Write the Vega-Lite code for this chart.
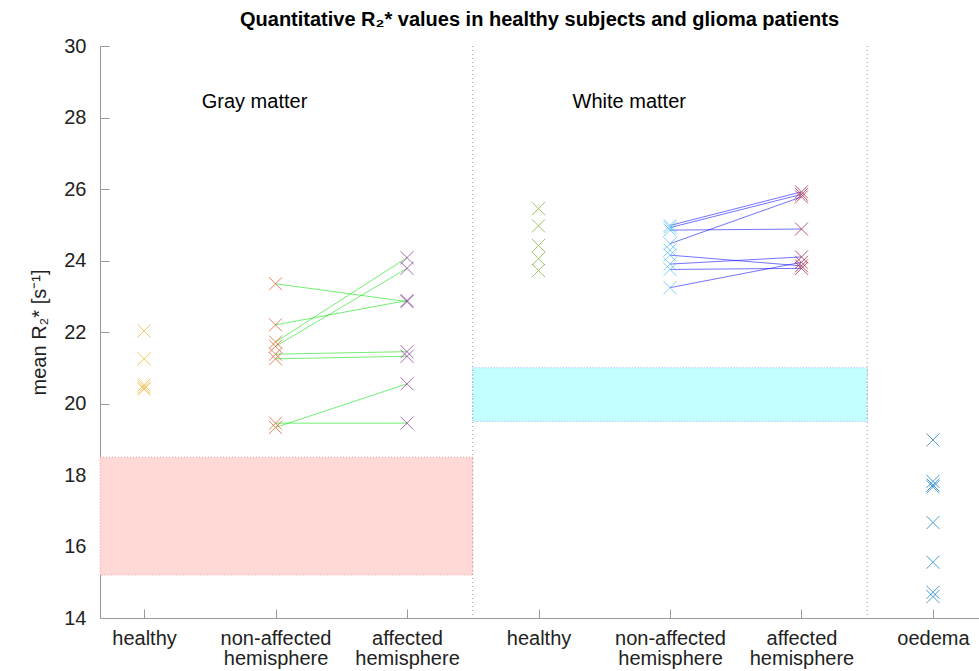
{
  "$schema": "https://vega.github.io/schema/vega-lite/v6.json",
  "width": 879,
  "height": 572,
  "autosize": "none",
  "padding": {"left": 100, "top": 46, "right": 0, "bottom": 53},
  "background": "white",
  "config": {
    "view": {"stroke": null},
    "font": "Liberation Sans"
  },
  "title": {
    "text": "Quantitative R₂* values in healthy subjects and glioma patients",
    "font": "Liberation Sans",
    "fontSize": 20,
    "fontWeight": "bold",
    "color": "#000000",
    "anchor": "middle",
    "offset": 6
  },
  "resolve": {"scale": {"stroke": "independent", "color": "independent", "fill": "independent"}},
  "datasets": {
    "bands": [
      {"x1": 0.665, "x2": 3.5, "y1": 15.2, "y2": 18.5, "band": "gm"},
      {"x1": 3.5, "x2": 6.5, "y1": 19.5, "y2": 21.0, "band": "wm"}
    ],
    "seps": [{"x": 3.5}, {"x": 6.5}],
    "labels": [
      {"x": 1.84, "v": 28.43, "t": "Gray matter"},
      {"x": 4.69, "v": 28.43, "t": "White matter"}
    ],
    "pts": [
      {"grp": "gm_h", "pos": 1, "v": 22.03},
      {"grp": "gm_h", "pos": 1, "v": 21.25},
      {"grp": "gm_h", "pos": 1, "v": 20.52},
      {"grp": "gm_h", "pos": 1, "v": 20.45},
      {"grp": "gm_h", "pos": 1, "v": 20.40},
      {"grp": "gm_na", "pos": 2, "v": 23.35, "pid": "g1", "tissue": "gm"},
      {"grp": "gm_a", "pos": 3, "v": 22.85, "pid": "g1", "tissue": "gm"},
      {"grp": "gm_na", "pos": 2, "v": 22.2, "pid": "g2", "tissue": "gm"},
      {"grp": "gm_a", "pos": 3, "v": 22.88, "pid": "g2", "tissue": "gm"},
      {"grp": "gm_na", "pos": 2, "v": 21.72, "pid": "g3", "tissue": "gm"},
      {"grp": "gm_a", "pos": 3, "v": 24.08, "pid": "g3", "tissue": "gm"},
      {"grp": "gm_na", "pos": 2, "v": 21.6, "pid": "g4", "tissue": "gm"},
      {"grp": "gm_a", "pos": 3, "v": 23.78, "pid": "g4", "tissue": "gm"},
      {"grp": "gm_na", "pos": 2, "v": 21.38, "pid": "g5", "tissue": "gm"},
      {"grp": "gm_a", "pos": 3, "v": 21.45, "pid": "g5", "tissue": "gm"},
      {"grp": "gm_na", "pos": 2, "v": 21.25, "pid": "g6", "tissue": "gm"},
      {"grp": "gm_a", "pos": 3, "v": 21.32, "pid": "g6", "tissue": "gm"},
      {"grp": "gm_na", "pos": 2, "v": 19.33, "pid": "g7", "tissue": "gm"},
      {"grp": "gm_a", "pos": 3, "v": 20.55, "pid": "g7", "tissue": "gm"},
      {"grp": "gm_na", "pos": 2, "v": 19.45, "pid": "g8", "tissue": "gm"},
      {"grp": "gm_a", "pos": 3, "v": 19.45, "pid": "g8", "tissue": "gm"},
      {"grp": "wm_h", "pos": 4, "v": 25.45},
      {"grp": "wm_h", "pos": 4, "v": 24.97},
      {"grp": "wm_h", "pos": 4, "v": 24.42},
      {"grp": "wm_h", "pos": 4, "v": 24.05},
      {"grp": "wm_h", "pos": 4, "v": 23.72},
      {"grp": "wm_na", "pos": 5, "v": 24.98, "pid": "w1", "tissue": "wm"},
      {"grp": "wm_a", "pos": 6, "v": 25.92, "pid": "w1", "tissue": "wm"},
      {"grp": "wm_na", "pos": 5, "v": 24.92, "pid": "w2", "tissue": "wm"},
      {"grp": "wm_a", "pos": 6, "v": 25.85, "pid": "w2", "tissue": "wm"},
      {"grp": "wm_na", "pos": 5, "v": 24.47, "pid": "w3", "tissue": "wm"},
      {"grp": "wm_a", "pos": 6, "v": 25.78, "pid": "w3", "tissue": "wm"},
      {"grp": "wm_na", "pos": 5, "v": 24.85, "pid": "w4", "tissue": "wm"},
      {"grp": "wm_a", "pos": 6, "v": 24.88, "pid": "w4", "tissue": "wm"},
      {"grp": "wm_na", "pos": 5, "v": 24.15, "pid": "w5", "tissue": "wm"},
      {"grp": "wm_a", "pos": 6, "v": 23.85, "pid": "w5", "tissue": "wm"},
      {"grp": "wm_na", "pos": 5, "v": 23.9, "pid": "w6", "tissue": "wm"},
      {"grp": "wm_a", "pos": 6, "v": 24.1, "pid": "w6", "tissue": "wm"},
      {"grp": "wm_na", "pos": 5, "v": 23.75, "pid": "w7", "tissue": "wm"},
      {"grp": "wm_a", "pos": 6, "v": 23.78, "pid": "w7", "tissue": "wm"},
      {"grp": "wm_na", "pos": 5, "v": 23.24, "pid": "w8", "tissue": "wm"},
      {"grp": "wm_a", "pos": 6, "v": 23.95, "pid": "w8", "tissue": "wm"},
      {"grp": "wm_na", "pos": 5, "v": 24.29},
      {"grp": "oe", "pos": 7, "v": 18.98},
      {"grp": "oe", "pos": 7, "v": 17.82},
      {"grp": "oe", "pos": 7, "v": 17.72},
      {"grp": "oe", "pos": 7, "v": 17.67},
      {"grp": "oe", "pos": 7, "v": 16.67},
      {"grp": "oe", "pos": 7, "v": 15.56},
      {"grp": "oe", "pos": 7, "v": 14.72},
      {"grp": "oe", "pos": 7, "v": 14.6}
    ]
  },
  "layer": [
    {
      "data": {"name": "bands"},
      "mark": {"type": "rect", "strokeDash": [1, 2], "strokeWidth": 1},
      "encoding": {
        "x": {"field": "x1", "type": "quantitative", "scale": {"domain": [0.665, 7.35], "nice": false, "zero": false},
          "axis": {
            "values": [1, 2, 3, 4, 5, 6, 7],
            "title": null,
            "grid": false,
            "domainColor": "#999999",
            "tickColor": "#999999",
            "tickSize": -9,
            "labelColor": "#222222",
            "labelFont": "Liberation Sans",
            "labelFontSize": 20,
            "labelPadding": 19,
            "labelLineHeight": 20,
            "labelBaseline": "top",
            "labelExpr": "datum.value == 1 || datum.value == 4 ? 'healthy' : datum.value == 2 || datum.value == 5 ? ['non-affected', 'hemisphere'] : datum.value == 3 || datum.value == 6 ? ['affected', 'hemisphere'] : 'oedema'"
          }
        },
        "x2": {"field": "x2"},
        "y": {"field": "y1", "type": "quantitative", "scale": {"domain": [14, 30], "nice": false, "zero": false},
          "axis": {
            "values": [14, 16, 18, 20, 22, 24, 26, 28, 30],
            "title": "mean R₂* [s⁻¹]",
            "titleFont": "Liberation Sans",
            "titleFontSize": 20,
            "titleFontWeight": "normal",
            "titleColor": "#222222",
            "titlePadding": 14,
            "grid": false,
            "domainColor": "#999999",
            "tickColor": "#999999",
            "tickSize": -9,
            "labelColor": "#222222",
            "labelFont": "Liberation Sans",
            "labelFontSize": 20,
            "labelPadding": 23
          }
        },
        "y2": {"field": "y2"},
        "fill": {"field": "band", "type": "nominal", "scale": {"domain": ["gm", "wm"], "range": ["#FFD9D6", "#C4FFFF"]}, "legend": null},
        "stroke": {"field": "band", "type": "nominal", "scale": {"domain": ["gm", "wm"], "range": ["#E8A8A8", "#8EB8FF"]}, "legend": null}
      }
    },
    {
      "data": {"name": "seps"},
      "mark": {"type": "rule", "color": "#999999", "strokeDash": [1, 3], "strokeWidth": 1},
      "encoding": {
        "x": {"field": "x", "type": "quantitative"}
      }
    },
    {
      "data": {"name": "pts"},
      "transform": [{"filter": "datum.pid != null"}],
      "mark": {"type": "line", "strokeWidth": 1, "opacity": 0.55},
      "encoding": {
        "x": {"field": "pos", "type": "quantitative"},
        "y": {"field": "v", "type": "quantitative"},
        "detail": {"field": "pid", "type": "nominal"},
        "order": {"field": "pos", "type": "quantitative"},
        "color": {"field": "tissue", "type": "nominal", "scale": {"domain": ["gm", "wm"], "range": ["#00E000", "#0000FF"]}, "legend": null}
      }
    },
    {
      "data": {"name": "pts"},
      "mark": {"type": "point", "shape": "M-1,-1L1,1M-1,1L1,-1", "size": 169, "filled": false, "strokeWidth": 1, "opacity": 0.7},
      "encoding": {
        "x": {"field": "pos", "type": "quantitative"},
        "y": {"field": "v", "type": "quantitative"},
        "stroke": {"field": "grp", "type": "nominal",
          "scale": {"domain": ["gm_h", "gm_na", "gm_a", "wm_h", "wm_na", "wm_a", "oe"],
            "range": ["#EDB120", "#D95319", "#7E2F8E", "#77AC30", "#4DBEEE", "#A2142F", "#0072BD"]},
          "legend": null}
      }
    },
    {
      "data": {"name": "labels"},
      "mark": {"type": "text", "font": "Liberation Sans", "fontSize": 20, "color": "#000000", "align": "center", "baseline": "middle"},
      "encoding": {
        "x": {"field": "x", "type": "quantitative"},
        "y": {"field": "v", "type": "quantitative"},
        "text": {"field": "t", "type": "nominal"}
      }
    }
  ]
}
